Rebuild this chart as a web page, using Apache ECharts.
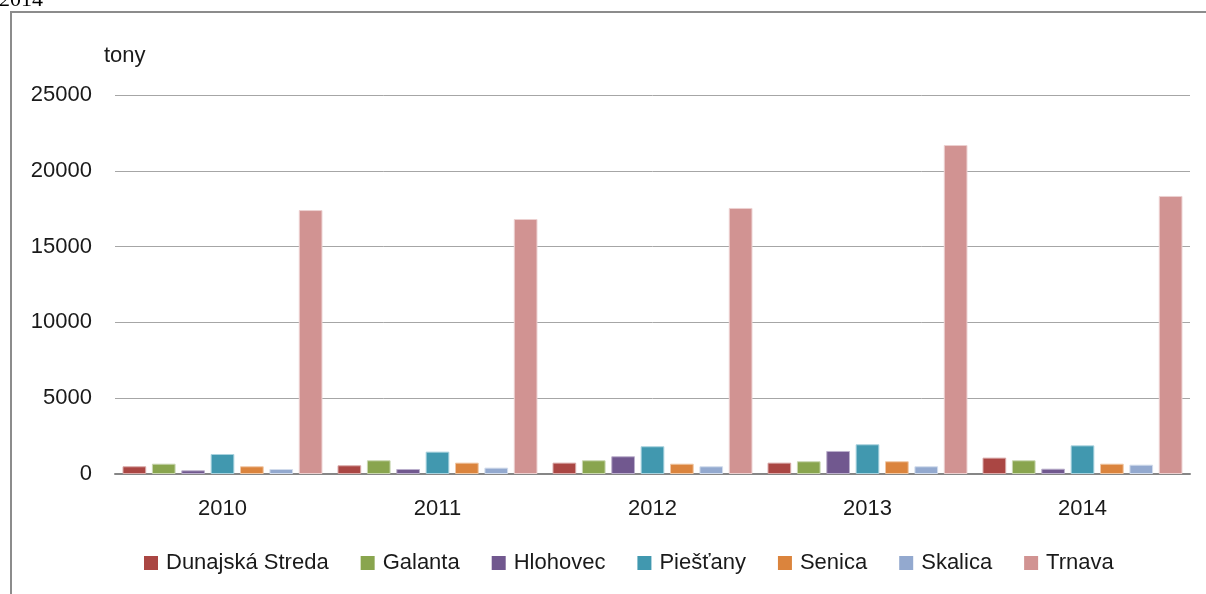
<!DOCTYPE html>
<html>
<head>
<meta charset="utf-8">
<title>tony</title>
<script src="https://cdn.jsdelivr.net/npm/echarts@6/dist/echarts.min.js"></script>
<style>
  html, body { margin: 0; padding: 0; background: #fff; }
  #chart { width: 1206px; height: 594px; }
</style>
</head>
<body>
<div id="chart"></div>
<script>
const years = ['2010', '2011', '2012', '2013', '2014']
const dunajskaStreda = [510, 575, 750, 750, 1080]
const galanta = [680, 905, 905, 840, 905]
const hlohovec = [245, 330, 1170, 1520, 350]
const piestany = [1320, 1475, 1830, 1960, 1890]
const senica = [510, 750, 680, 840, 680]
const skalica = [330, 420, 510, 510, 615]
const trnava = [17410, 16820, 17550, 21700, 18340]

const seriesDefs = [
  { name: 'Dunajská Streda', data: dunajskaStreda, color: '#aa4643', border: '#d9a9a8' },
  { name: 'Galanta', data: galanta, color: '#89a54e', border: '#c9d6b0' },
  { name: 'Hlohovec', data: hlohovec, color: '#71588f', border: '#bcb0cc' },
  { name: 'Piešťany', data: piestany, color: '#4198af', border: '#a9d2de' },
  { name: 'Senica', data: senica, color: '#db843d', border: '#f0c8a6' },
  { name: 'Skalica', data: skalica, color: '#93a9cf', border: '#d2dcec' },
  { name: 'Trnava', data: trnava, color: '#d19392', border: '#ecd0d0' }
]

const font = '"Liberation Sans", Arial, sans-serif'
const chart = echarts.init(document.getElementById('chart'))

chart.setOption({
  animation: false,
  backgroundColor: '#fff',
  textStyle: { fontFamily: font },
  graphic: [
    {
      type: 'rect',
      shape: { x: 11, y: 12, width: 1220, height: 620 },
      style: { fill: 'none', stroke: '#8c8c8c', lineWidth: 2 },
      silent: true
    },
    {
      type: 'text',
      left: -1,
      top: -11,
      style: { text: '2014', font: '22px "Liberation Serif", serif', fill: '#000' },
      silent: true
    }
  ],
  grid: { left: 115, right: 16, top: 95, bottom: 120 },
  legend: {
    left: 139,
    top: 547,
    itemWidth: 14,
    itemHeight: 14,
    itemGap: 32,
    icon: 'rect',
    itemStyle: { borderWidth: 0 },
    textStyle: { fontSize: 22, color: '#1a1a1a', fontFamily: font, padding: [0, 0, 0, 3] },
    data: seriesDefs.map((s) => s.name)
  },
  xAxis: {
    type: 'category',
    data: years,
    axisTick: { show: false },
    axisLine: { lineStyle: { color: '#868686', width: 2 } },
    axisLabel: { fontSize: 22, color: '#1a1a1a', margin: 24 }
  },
  yAxis: {
    type: 'value',
    min: 0,
    max: 25000,
    interval: 5000,
    name: 'tony',
    nameLocation: 'end',
    nameGap: 28,
    nameTextStyle: { fontSize: 22, color: '#1a1a1a', align: 'left', padding: [0, 0, 0, -11] },
    axisLine: { show: false },
    axisTick: { show: false },
    axisLabel: { fontSize: 22, color: '#1a1a1a', margin: 23, formatter: (v) => String(v) },
    splitLine: { lineStyle: { color: '#a6a6a6', width: 1 } }
  },
  series: seriesDefs.map((s) => ({
    name: s.name,
    type: 'bar',
    data: s.data,
    barGap: '24%',
    barCategoryGap: '7%',
    itemStyle: { color: s.color, borderColor: s.border, borderWidth: 1 }
  }))
})
</script>
</body>
</html>
